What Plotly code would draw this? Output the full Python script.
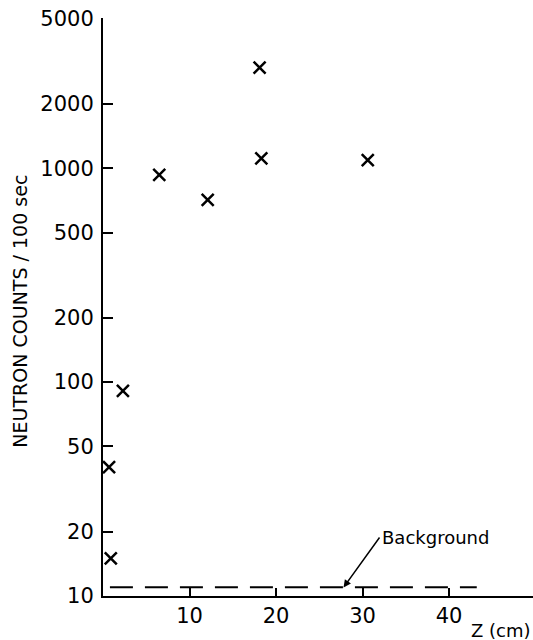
import plotly.graph_objects as go

# Data
z_cm = [0.7, 0.9, 2.3, 6.5, 12.1, 18.1, 18.3, 30.6]
counts = [40, 15, 91, 930, 710, 2950, 1110, 1090]

bg_z = [0.8, 43.2]
bg_counts = [11, 11]

y_ticks = [10, 20, 50, 100, 200, 500, 1000, 2000, 5000]
x_ticks = [10, 20, 30, 40]

FONT = "DejaVu Sans"

fig = go.Figure()
fig.add_trace(go.Scatter(
    x=bg_z, y=bg_counts, mode="lines",
    line=dict(color="black", width=2, dash="23px,12px"),
    hoverinfo="skip", showlegend=False))
fig.add_trace(go.Scatter(
    x=z_cm, y=counts, mode="markers",
    marker=dict(symbol="x-thin", size=12, line=dict(width=2.5, color="black")),
    showlegend=False))

fig.update_layout(
    width=533, height=640,
    margin=dict(l=103, r=0, t=18, b=44),
    paper_bgcolor="white", plot_bgcolor="white",
    font=dict(family=FONT, color="black", size=18),
    xaxis=dict(range=[0, 49.7], tickvals=x_ticks, ticktext=[str(v) for v in x_ticks],
               ticks="inside", ticklen=8, tickwidth=2, tickcolor="black",
               showline=True, linecolor="black", linewidth=2,
               showgrid=False, zeroline=False, tickfont=dict(size=21)),
    yaxis=dict(type="log", range=[1, 3.702], tickvals=y_ticks,
               ticktext=[str(v) for v in y_ticks],
               ticks="inside", ticklen=10, tickwidth=2, tickcolor="black",
               showline=True, linecolor="black", linewidth=2,
               showgrid=False, zeroline=False, tickfont=dict(size=21),
               ticklabelstandoff=3, ticklabeloverflow="allow"),
    annotations=[
        dict(text="NEUTRON COUNTS / 100 sec", xref="paper", yref="paper",
             x=-0.193, y=0.492, xanchor="center", yanchor="middle",
             textangle=-90, showarrow=False, font=dict(size=19)),
        dict(text="Z (cm)", xref="paper", yref="paper", x=1.0, y=-0.06,
             xanchor="right", yanchor="middle", showarrow=False,
             font=dict(size=18)),
        dict(text="Background", x=27.8, y=1.04, xref="x", yref="y",
             ax=36, ay=-50, xanchor="left", yanchor="middle",
             showarrow=True, arrowhead=2, arrowsize=1, arrowwidth=1.5,
             arrowcolor="black", font=dict(size=18)),
    ],
)

# remove the default 8px page margin so the figure fills the window exactly
fig.write_html("out.html", config={"displayModeBar": False},
               post_script="document.body.style.margin='0';")
